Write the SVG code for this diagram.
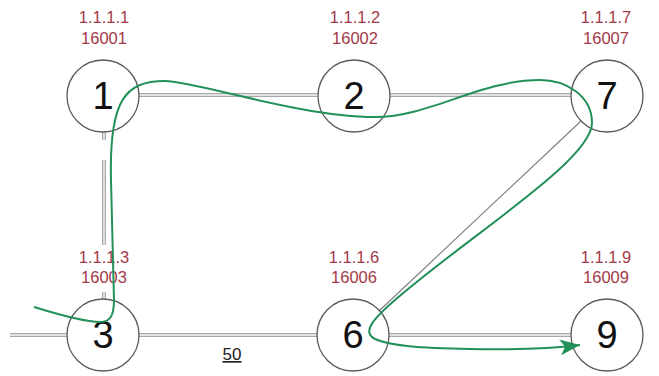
<svg xmlns="http://www.w3.org/2000/svg" width="659" height="376" viewBox="0 0 659 376">
  <defs>
    <style>
      .link { fill: none; stroke: #8a8a8a; stroke-width: 3.4; }
      .linkin { fill: none; stroke: #ffffff; stroke-width: 1.4; }
      .thin { fill: none; stroke: #7a7a7a; stroke-width: 1.1; }
      .node circle { fill: #ffffff; stroke: #5a5a5a; stroke-width: 1.3; }
      .num { font-family: "Liberation Sans", Arial, sans-serif; font-size: 38px; fill: #111111; text-anchor: middle; }
      .lbl { font-family: "Liberation Sans", Arial, sans-serif; font-size: 16.5px; fill: #a33a48; text-anchor: middle; }
      .path { fill: none; stroke: #23905a; stroke-width: 2; }
      .cost { font-family: "Liberation Sans", Arial, sans-serif; font-size: 17px; fill: #222222; text-anchor: middle; text-decoration: underline; }
    </style>
    <marker id="arr" markerUnits="userSpaceOnUse" markerWidth="22" markerHeight="16" refX="20" refY="8" orient="auto">
      <path d="M0,0 L20,8 L0,16 L5,8 z" fill="#23905a"/>
    </marker>
  </defs>

  <g id="connectors">
    <g id="link-1-2"><path class="link" d="M139,95 H318"/><path class="linkin" d="M139,95 H318"/></g>
    <g id="link-2-7"><path class="link" d="M390,95 H571"/><path class="linkin" d="M390,95 H571"/></g>
    <g id="link-left-3"><path class="link" d="M10,335 H67"/><path class="linkin" d="M10,335 H67"/></g>
    <g id="link-3-6"><path class="link" d="M139,335 H317"/><path class="linkin" d="M139,335 H317"/></g>
    <g id="link-6-9"><path class="link" d="M389,335 H571"/><path class="linkin" d="M389,335 H571"/></g>
    <g id="link-1-3">
      <path class="link" d="M104,132 V140 M104,160 V245 M104,292 V299"/>
      <path class="linkin" d="M104,132 V140 M104,160 V245 M104,292 V299"/>
    </g>
    <path id="link-7-6" class="thin" d="M581,121 L379,311"/>
    <text class="cost" x="232" y="360">50</text>
  </g>

  <g id="n1" class="node"><circle cx="103" cy="96" r="36"/><text class="num" x="103" y="109">1</text>
    <text class="lbl" x="104" y="23">1.1.1.1</text><text class="lbl" x="104" y="44">16001</text></g>
  <g id="n2" class="node"><circle cx="354" cy="96" r="36"/><text class="num" x="354" y="109">2</text>
    <text class="lbl" x="355" y="23">1.1.1.2</text><text class="lbl" x="355" y="44">16002</text></g>
  <g id="n7" class="node"><circle cx="607" cy="96" r="36"/><text class="num" x="607" y="109">7</text>
    <text class="lbl" x="606" y="23">1.1.1.7</text><text class="lbl" x="606" y="44">16007</text></g>
  <g id="n3" class="node"><circle cx="103" cy="335" r="36"/><text class="num" x="103" y="348">3</text>
    <text class="lbl" x="104" y="263">1.1.1.3</text><text class="lbl" x="104" y="283">16003</text></g>
  <g id="n6" class="node"><circle cx="353" cy="335" r="36"/><text class="num" x="353" y="348">6</text>
    <text class="lbl" x="354" y="263">1.1.1.6</text><text class="lbl" x="354" y="283">16006</text></g>
  <g id="n9" class="node"><circle cx="607" cy="335" r="36"/><text class="num" x="607" y="348">9</text>
    <text class="lbl" x="606" y="263">1.1.1.9</text><text class="lbl" x="606" y="283">16009</text></g>

  <g id="path-overlay">
    <path class="path" marker-end="url(#arr)" d="M34,307 C60,315 85,322 100,322 C110,322 114,316 114,300 L111,180 C109,100 125,81 165,81 C195,81 300,117 375,117 C430,117 480,80 540,80 C565,80 592,95 592,123 C592,160 470,235 395,300 C372,320 362,332 375,339 C390,346 420,348 470,349 C520,350 555,348 580,345"/>
  </g>
</svg>
